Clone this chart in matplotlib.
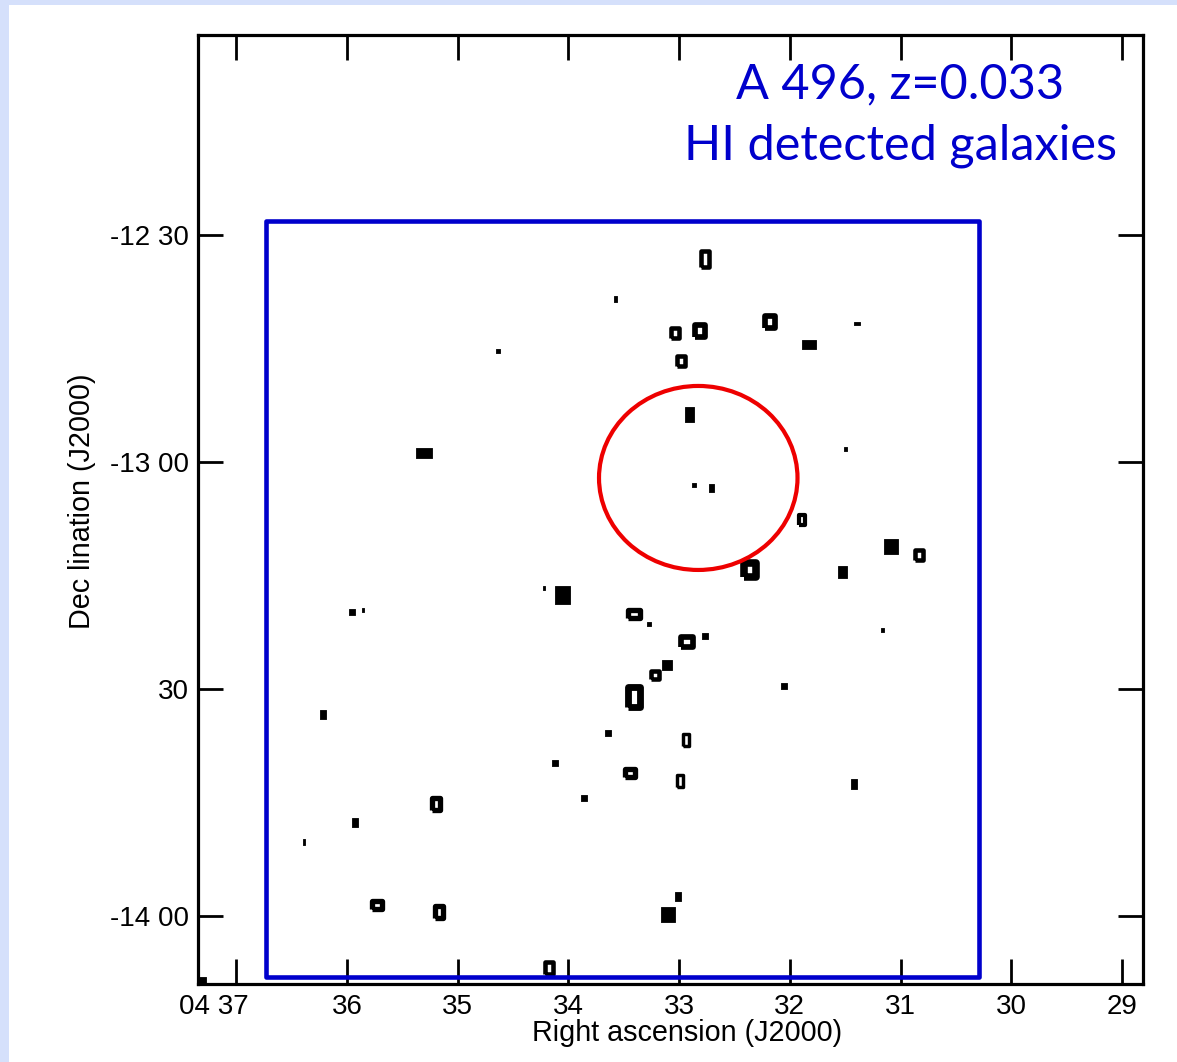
import matplotlib
matplotlib.use("Agg")
import matplotlib.pyplot as plt
from matplotlib.patches import Ellipse, Rectangle
from matplotlib.markers import MarkerStyle
from matplotlib.transforms import ScaledTranslation

# ---------------- data ----------------
# Right ascension in minutes of 4h, declination in degrees
ra_ticks = [37, 36, 35, 34, 33, 32, 31, 30, 29]
ra_ticklabels = ["04 37", "36", "35", "34", "33", "32", "31", "30", "29"]
dec_ticks = [-12.5, -13.0, -13.5, -14.0]
dec_ticklabels = ["-12 30", "-13 00", "30", "-14 00"]

gal_ra = [32.766, 33.579, 33.037, 32.807, 32.179, 31.393, 31.827, 34.636, 32.983,
          32.915, 31.501, 35.304, 32.865, 32.716, 31.894, 31.086, 30.833, 32.360,
          31.533, 34.220, 34.058, 35.955, 35.858, 33.407, 33.272, 32.929, 32.766,
          33.218, 33.109, 33.407, 31.167, 32.052, 36.217, 33.642, 32.942, 34.121,
          33.448, 32.996, 31.420, 33.859, 35.196, 35.928, 36.388, 35.729, 35.169,
          33.010, 33.100, 34.175, 37.310]
gal_dec = [-12.5522, -12.6404, -12.7153, -12.7109, -12.6911, -12.6944, -12.7395,
           -12.7550, -12.7770, -12.8938, -12.9709, -12.9797, -13.0502, -13.0569,
           -13.1274, -13.1847, -13.2045, -13.2375, -13.2420, -13.2783, -13.2926,
           -13.3301, -13.3257, -13.3345, -13.3577, -13.3962, -13.3830, -13.4689,
           -13.4469, -13.5174, -13.3698, -13.4932, -13.5549, -13.5967, -13.6122,
           -13.6629, -13.6849, -13.7025, -13.7091, -13.7400, -13.7532, -13.7940,
           -13.8369, -13.9758, -13.9912, -13.9559, -13.9956, -14.1146, -14.1411]
# apparent contour extent (pixels wide, high) and whether contour is open (ring)
gal_w = [12, 3, 12, 15, 15, 6, 14, 5, 12, 9, 3, 16, 5, 5, 11, 14, 12, 20, 9, 3, 15,
         6, 3, 18, 5, 18, 6, 12, 10, 18, 3, 6, 6, 6, 9, 6, 15, 9, 7, 6, 14, 6, 2,
         15, 14, 6, 14, 12, 7]
gal_h = [20, 6, 15, 18, 18, 3, 9, 5, 15, 15, 4, 10, 5, 8, 15, 15, 15, 21, 12, 5, 18,
         6, 5, 14, 5, 15, 6, 12, 10, 27, 4, 6, 9, 6, 15, 6, 14, 15, 10, 6, 18, 9, 6,
         14, 17, 9, 15, 16, 6]
gal_ring = [1, 0, 1, 1, 1, 0, 0, 0, 1, 0, 0, 0, 0, 0, 1, 0, 1, 1, 0, 0, 0,
            0, 0, 1, 0, 1, 0, 1, 0, 1, 0, 0, 0, 0, 1, 0, 1, 1, 0, 0, 1, 0, 0,
            1, 1, 0, 0, 1, 0]

title_lines = ["A 496, z=0.033", "HI detected galaxies"]

# ---------------- figure ----------------
W, H, DPI = 1177, 1062, 100
fig = plt.figure(figsize=(W / DPI, H / DPI), dpi=DPI, facecolor="#d5e0fb")
fig.patches.append(Rectangle((9 / W, 0), 1, 1 - 5 / H, transform=fig.transFigure,
                             facecolor="white", edgecolor="none", zorder=-10))

ax = fig.add_axes([198.3 / W, 1 - 984.3 / H, (1143.3 - 198.3) / W, (984.3 - 35) / H])
ax.set_zorder(2)
ax.patch.set_alpha(0)
ax.set_xlim(37.343, 28.807)
ax.set_ylim(-14.1507, -12.0586)

for s in ax.spines.values():
    s.set_linewidth(2.3)

font = "Liberation Sans"
ax.set_xticks(ra_ticks)
ax.set_xticklabels(ra_ticklabels, fontsize=20, family=font)
ax.set_yticks(dec_ticks)
ax.set_yticklabels(dec_ticklabels, fontsize=20, family=font)
ax.tick_params(axis="both", direction="in", length=18, width=2, top=True, right=True,
               colors="black")
ax.tick_params(axis="x", pad=7)
ax.tick_params(axis="y", pad=7)
lab0 = ax.get_xticklabels()[0]
lab0.set_transform(lab0.get_transform() + ScaledTranslation(-22 / DPI, 0, fig.dpi_scale_trans))

# galaxies (HI contours) drawn as rectangles of their apparent aspect
for ra, dec, w, h, ring in zip(gal_ra, gal_dec, gal_w, gal_h, gal_ring):
    if ring:
        ew_px = max(3.0, 0.38 * min(w, h))
        iw, ih = max(w - ew_px, 2.0), max(h - ew_px, 2.0)
        verts = [(-iw, -ih), (iw, -ih), (iw, ih), (-iw, ih), (-iw, -ih)]
        ax.plot([ra], [dec], marker=MarkerStyle(verts, joinstyle="miter"),
                markersize=max(iw, ih) * 0.72,
                markerfacecolor="white", markeredgecolor="black",
                markeredgewidth=ew_px * 0.72, linestyle="none", zorder=3)
    else:
        verts = [(-w, -h), (w, -h), (w, h), (-w, h), (-w, -h)]
        ax.plot([ra], [dec], marker=MarkerStyle(verts, joinstyle="miter"),
                markersize=max(w, h) * 0.72,
                markerfacecolor="black", markeredgecolor="black",
                markeredgewidth=0.6, linestyle="none", zorder=3)

# survey box
ax.add_patch(Rectangle((30.293, -14.1338), 36.734 - 30.293, -12.4685 + 14.1338,
                       fill=False, edgecolor="#0000cc", linewidth=3.3, zorder=4,
                       joinstyle="round"))
# cluster core
ax.add_patch(Ellipse((32.827, -13.0348), 1.793, 0.4055, fill=False,
                     edgecolor="#ee0000", linewidth=3.0, zorder=4))

# axis labels
fig.text(687 / W, 1 - 1033 / H, "Right ascension (J2000)", fontsize=20.7, family=font,
         ha="center", va="center")
fig.text(82 / W, 1 - 501 / H, "Dec lination (J2000)", fontsize=20.7, family=font,
         ha="center", va="center", rotation=90)

# title
fig.text(900 / W, 1 - 98 / H, title_lines[0], fontsize=35, family="Lato",
         color="#0000cc", ha="center", va="baseline")
fig.text(900 / W, 1 - 160 / H, title_lines[1], fontsize=35, family="Lato",
         color="#0000cc", ha="center", va="baseline")

fig.savefig("out.png", dpi=DPI, facecolor=fig.get_facecolor())
